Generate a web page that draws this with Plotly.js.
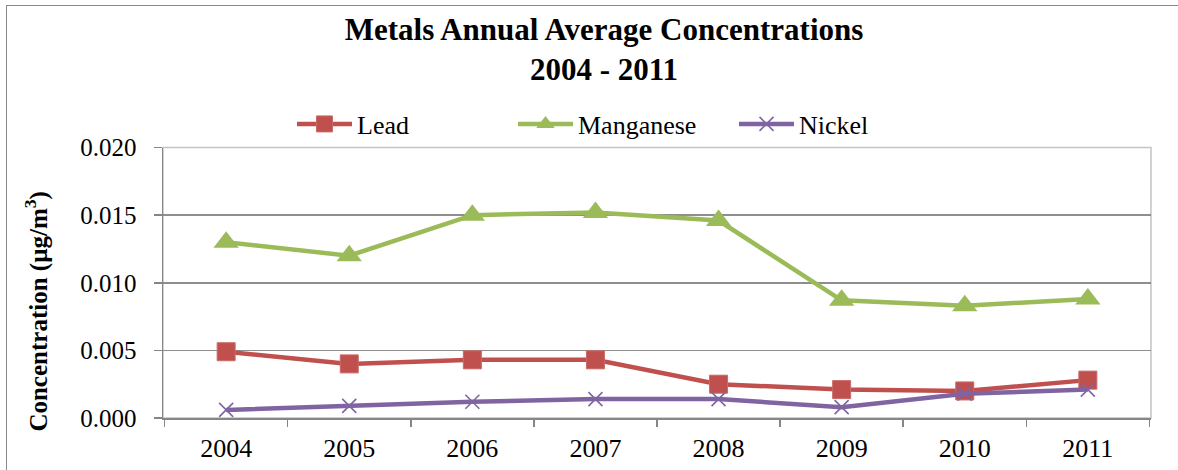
<!DOCTYPE html>
<html>
<head>
<meta charset="utf-8">
<script src="https://cdn.plot.ly/plotly-3.0.1.min.js"></script>
<style>
  html, body { margin: 0; padding: 0; background: #ffffff; overflow: hidden; }
  #wrap { position: relative; width: 1178px; height: 470px; }
  #chart { position: absolute; left: 0; top: 0; width: 1178px; height: 470px; }
  /* chart-area frame (top and left edges) */
  #frame { position: absolute; left: 6px; top: 5px; width: 1300px; height: 600px;
           border-top: 1.5px solid #8a8a8a; border-left: 1.5px solid #8a8a8a;
           pointer-events: none; }
</style>
</head>
<body>
<div id="wrap">
  <div id="chart"></div>
  <div id="frame"></div>
</div>
<script>
// Annual average concentrations (µg/m³)
const years = ['2004', '2005', '2006', '2007', '2008', '2009', '2010', '2011'];
const lead = [0.0049, 0.0040, 0.0043, 0.0043, 0.0025, 0.0021, 0.0020, 0.0028];
const manganese = [0.0130, 0.0120, 0.0150, 0.0152, 0.0146, 0.0087, 0.0083, 0.0088];
const nickel = [0.0006, 0.0009, 0.0012, 0.0014, 0.0014, 0.0008, 0.0018, 0.0021];
const yTicks = [0, 0.005, 0.010, 0.015, 0.020];

const serif = 'Liberation Serif';

const traces = [
  {
    name: 'Lead', x: years, y: lead, type: 'scatter', mode: 'lines+markers',
    line: { color: '#C0504D', width: 4.5 },
    marker: { symbol: 'square', size: 18, color: '#C0504D', line: { color: '#C96A67', width: 1 } }
  },
  {
    name: 'Manganese', x: years, y: manganese, type: 'scatter', mode: 'lines+markers',
    line: { color: '#9BBB59', width: 4.5 },
    marker: { symbol: 'triangle-up', size: 22, color: '#9BBB59', line: { width: 0 } }
  },
  {
    name: 'Nickel', x: years, y: nickel, type: 'scatter', mode: 'lines+markers',
    line: { color: '#8064A2', width: 4.5 },
    marker: { symbol: 'x-thin', size: 14, color: '#8064A2', line: { color: '#8064A2', width: 1.6 } }
  }
];

const layout = {
  width: 1178, height: 470,
  margin: { l: 163, r: 27, t: 146, b: 52 },
  paper_bgcolor: '#ffffff', plot_bgcolor: '#ffffff',
  font: { family: serif, size: 25, color: '#000000' },
  showlegend: true,
  title: {
    text: '<b>Metals Annual Average Concentrations<br>2004 - 2011</b>',
    font: { family: serif, size: 31, color: '#000000' },
    xref: 'container', yref: 'container',
    x: 604 / 1178, xanchor: 'center',
    y: 1 - 40 / 470, yanchor: 'middle'
  },
  legend: {
    orientation: 'h',
    xref: 'container', yref: 'container',
    x: 292 / 1178, xanchor: 'left',
    y: 1 - 124 / 470, yanchor: 'middle',
    itemwidth: 55,
    entrywidth: 151, entrywidthmode: 'pixels',
    font: { family: serif, size: 26, color: '#000000' },
    bgcolor: 'rgba(0,0,0,0)', borderwidth: 0,
    itemclick: false
  },
  xaxis: {
    type: 'category',
    tickson: 'boundaries',
    ticks: 'outside', ticklen: 7, tickwidth: 1.5, tickcolor: '#868686',
    showline: true, linecolor: '#868686', linewidth: 1.5,
    showgrid: false, zeroline: false,
    tickfont: { family: serif, size: 26, color: '#000000' },
    ticklabelstandoff: 6,
    fixedrange: true
  },
  yaxis: {
    range: [0, 0.020],
    tickvals: yTicks,
    tickformat: '.3f',
    ticks: 'outside', ticklen: 8, tickwidth: 1.5, tickcolor: '#868686',
    showline: true, linecolor: '#868686', linewidth: 1.5,
    showgrid: true, gridcolor: '#8e8e8e', gridwidth: 1.5,
    zeroline: false,
    tickfont: { family: serif, size: 25, color: '#000000' },
    ticklabelstandoff: 12,
    fixedrange: true
  },
  shapes: [
    {
      type: 'rect', xref: 'paper', yref: 'paper', x0: 0, x1: 1, y0: 0, y1: 1,
      line: { color: '#c4c4c4', width: 1.5 }, fillcolor: 'rgba(0,0,0,0)', layer: 'below'
    }
  ],
  annotations: [
    {
      text: '<b>Concentration (µg/m<sup>3</sup>)</b>',
      textangle: -90,
      xref: 'paper', yref: 'paper',
      x: (37 - 163) / 988, xanchor: 'center',
      y: (418 - 311) / 272, yanchor: 'middle',
      showarrow: false,
      font: { family: serif, size: 25, color: '#000000' }
    }
  ]
};

Plotly.newPlot('chart', traces, layout, { displayModeBar: false, staticPlot: true });
</script>
</body>
</html>
